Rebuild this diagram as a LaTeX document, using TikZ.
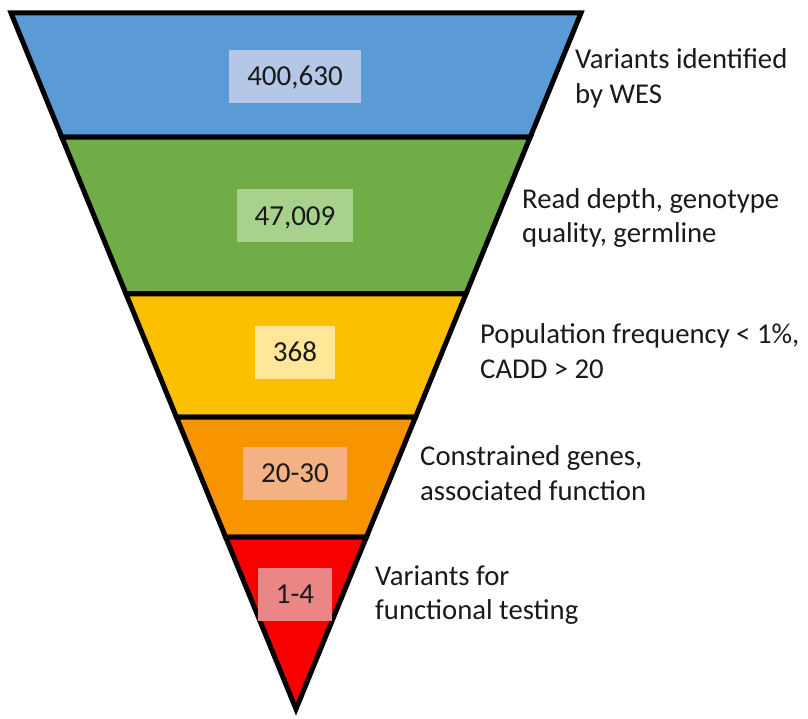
\documentclass[tikz,border=0pt]{standalone}
\usepackage{fontspec}
\setmainfont{Carlito}
\usetikzlibrary{calc}
\definecolor{bandblue}{HTML}{5B9BD5}
\definecolor{bandgreen}{HTML}{70AD47}
\definecolor{bandyellow}{HTML}{FCC000}
\definecolor{bandorange}{HTML}{F79400}
\definecolor{bandred}{HTML}{F80000}
\definecolor{boxblue}{HTML}{B4C7E7}
\definecolor{boxgreen}{HTML}{A9D18E}
\definecolor{boxyellow}{HTML}{FFE699}
\definecolor{boxorange}{HTML}{F4B183}
\definecolor{boxred}{HTML}{EA8686}
\definecolor{textgray}{HTML}{1A1A1A}
\begin{document}
\begin{tikzpicture}[x=1pt,y=-1pt,
  band/.style={draw=black, line width=5pt, line join=miter},
  numbox/.style={fill=#1, draw=none, inner xsep=18pt, inner ysep=0pt, minimum height=53pt, text height=18.5pt, text depth=0pt, font=\fontsize{29}{35}\selectfont, text=textgray},
  lbl/.style={anchor=west, inner sep=0pt, align=left, font=\fontsize{28.7}{34.5}\selectfont, text=textgray}]
\useasboundingbox (0,0) rectangle (808,719);
\coordinate (TL) at (11,13);
\coordinate (TR) at (581,13);
\coordinate (A) at (296,709);
\foreach \n/\t in {1/0.1782,2/0.4037,3/0.5805,4/0.7529}{
  \coordinate (L\n) at ($(TL)!\t!(A)$);
  \coordinate (R\n) at ($(TR)!\t!(A)$);
}
\draw[band, fill=bandblue] (TL) -- (TR) -- (R1) -- (L1) -- cycle;
\draw[band, fill=bandgreen] (L1) -- (R1) -- (R2) -- (L2) -- cycle;
\draw[band, fill=bandyellow] (L2) -- (R2) -- (R3) -- (L3) -- cycle;
\draw[band, fill=bandorange] (L3) -- (R3) -- (R4) -- (L4) -- cycle;
\draw[band, fill=bandred] (L4) -- (R4) -- (A) -- cycle;

\node[numbox=boxblue] (n1) at (295,76.5) {400,630};
\node[numbox=boxgreen] (n2) at (295,216) {47,009};
\node[numbox=boxyellow] (n3) at (295,352.5) {368};
\node[numbox=boxorange] (n4) at (295,473) {20-30};
\node[numbox=boxred] (n5) at (295,594) {1-4};

\node[lbl] (t1) at (575,79) {\strut Variants identified\\\strut by WES};
\node[lbl] (t2) at (522,218.8) {\strut Read depth, genotype\\\strut quality, germline};
\node[lbl] (t3) at (480,354) {\strut Population frequency < 1\%,\\\strut CADD > 20};
\node[lbl] (t4) at (420,476) {\strut Constrained genes,\\\strut associated function};
\node[lbl] (t5) at (375,595.5) {\strut Variants for\\\strut functional testing};
\end{tikzpicture}
\end{document}
